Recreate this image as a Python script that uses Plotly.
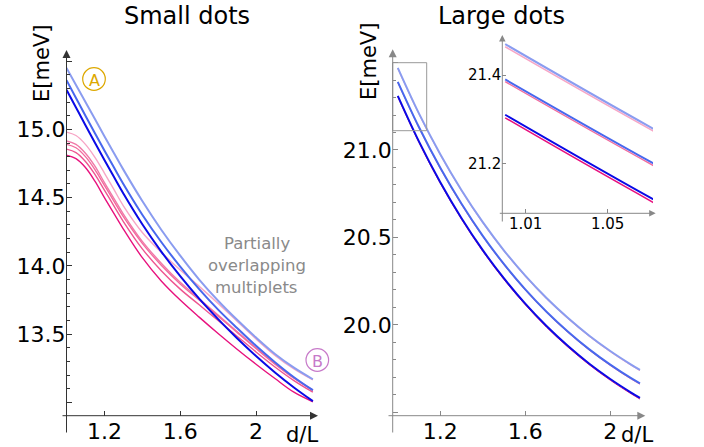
import plotly.graph_objects as go

W, H = 704, 447

# ---------------- data ----------------
# Small dots panel
d_small = [1.0, 1.05, 1.1, 1.15, 1.2, 1.25, 1.3, 1.4, 1.5, 1.6, 1.7, 1.8, 1.9, 2.0, 2.1, 2.2, 2.3]
small_blue_light = [15.45, 15.325, 15.20, 15.075, 14.95, 14.827, 14.705, 14.475, 14.265, 14.075, 13.90, 13.745, 13.605, 13.475, 13.355, 13.255, 13.17]
small_blue_mid = [15.36, 15.23, 15.10, 14.972, 14.845, 14.722, 14.60, 14.375, 14.175, 13.995, 13.83, 13.68, 13.545, 13.415, 13.295, 13.185, 13.09]
small_blue_dark = [15.29, 15.16, 15.03, 14.902, 14.775, 14.652, 14.53, 14.305, 14.105, 13.925, 13.76, 13.61, 13.47, 13.34, 13.22, 13.11, 13.01]
small_pink_light = [14.98, 14.955, 14.89, 14.795, 14.68, 14.56, 14.44, 14.245, 14.10, 13.97, 13.85, 13.725, 13.595, 13.465, 13.345, 13.245, 13.165]
small_pink_a = [14.915, 14.89, 14.825, 14.73, 14.61, 14.495, 14.38, 14.18, 14.02, 13.88, 13.76, 13.64, 13.52, 13.40, 13.285, 13.18, 13.09]
small_pink_b = [14.89, 14.865, 14.80, 14.705, 14.59, 14.475, 14.36, 14.165, 14.005, 13.868, 13.75, 13.632, 13.513, 13.395, 13.281, 13.177, 13.088]
small_pink_c = [14.855, 14.83, 14.765, 14.67, 14.555, 14.44, 14.325, 14.125, 13.965, 13.83, 13.715, 13.60, 13.485, 13.37, 13.26, 13.16, 13.075]
small_magenta = [14.81, 14.785, 14.72, 14.62, 14.50, 14.385, 14.27, 14.06, 13.89, 13.75, 13.625, 13.505, 13.39, 13.28, 13.175, 13.075, 13.005]

# Large dots panel (also shown in the inset)
d_large = [1.0, 1.1, 1.2, 1.3, 1.4, 1.5, 1.6, 1.7, 1.8, 1.9, 2.0, 2.1, 2.14]
large_blue_light = [21.47, 21.208, 20.976, 20.770, 20.587, 20.425, 20.281, 20.153, 20.040, 19.939, 19.850, 19.771, 19.742]
large_blue_mid = [21.39, 21.13, 20.898, 20.692, 20.509, 20.347, 20.203, 20.075, 19.962, 19.861, 19.772, 19.693, 19.665]
large_blue_dark = [21.31, 21.048, 20.816, 20.61, 20.427, 20.265, 20.121, 19.993, 19.88, 19.779, 19.69, 19.611, 19.582]
large_pink_light = [21.464, 21.203, 20.971, 20.765, 20.582, 20.42, 20.276, 20.148, 20.035, 19.934, 19.845, 19.766, 19.737]
large_pink_mid = [21.385, 21.125, 20.893, 20.687, 20.504, 20.342, 20.198, 20.07, 19.957, 19.856, 19.767, 19.688, 19.66]
large_magenta = [21.303, 21.041, 20.809, 20.603, 20.42, 20.258, 20.114, 19.986, 19.873, 19.772, 19.683, 19.604, 19.575]

# tick labels
small_x_ticks = [1.2, 1.6, 2.0]
small_x_text = ["1.2", "1.6", "2"]
small_y_ticks = [13.0, 13.5, 14.0, 14.5, 15.0, 15.5]
small_y_text = ["", "13.5", "14.0", "14.5", "15.0", ""]
large_x_ticks = [1.2, 1.6, 2.0]
large_x_text = ["1.2", "1.6", "2"]
large_y_ticks = [19.5, 20.0, 20.5, 21.0, 21.5]
large_y_text = ["", "20.0", "20.5", "21.0", ""]
inset_x_ticks = [1.01, 1.05]
inset_x_text = ["1.01", "1.05"]
inset_y_ticks = [21.2, 21.4]
inset_y_text = ["21.2", "21.4"]

# ---------------- styling ----------------
FONT = "DejaVu Sans"
C_BL = "#8A9CF0"
C_BM = "#4868EE"
C_BD = "#0A0AE6"
C_PL = "#F7A6C6"
C_PA = "#F07AA8"
C_PB = "#F26C9E"
C_PC = "#EE5590"
C_MG = "#E8127E"


def X(px):
    return px / W


def Y(py):
    return 1 - py / H


fig = go.Figure()


def add(x, y, color, width, xa="x", ya="y"):
    fig.add_trace(go.Scatter(x=x, y=y, mode="lines", line=dict(color=color, width=width, shape="spline", smoothing=1.0),
                             xaxis=xa, yaxis=ya, hoverinfo="skip"))


# left panel: pinks under blues
for ys, c in [(small_pink_light, C_PL), (small_pink_a, C_PA), (small_pink_b, C_PB),
              (small_pink_c, C_PC), (small_magenta, C_MG)]:
    add(d_small, ys, c, 1.4)
for ys, c in [(small_blue_light, C_BL), (small_blue_mid, C_BM), (small_blue_dark, C_BD)]:
    add(d_small, ys, c, 2.0)

# right panel (pinks almost hidden under the blues) + inset
for xa, ya, pw in [("x2", "y2", 1.0), ("x3", "y3", 1.5)]:
    for ys, c in [(large_pink_light, C_PL), (large_pink_mid, C_PB), (large_magenta, C_MG)]:
        add(d_large, ys, c, pw, xa, ya)
    for ys, c in [(large_blue_light, C_BL), (large_blue_mid, C_BM), (large_blue_dark, C_BD)]:
        add(d_large, ys, c, 2.0, xa, ya)


def axis_common(color, size, ticklen):
    return dict(showgrid=False, zeroline=False, showline=False, ticks="inside", ticklen=ticklen,
                tickwidth=1, tickcolor=color, tickfont=dict(family=FONT, size=size, color="black"),
                tickmode="array", fixedrange=True)


# pixel geometry of panels
L_x0, L_x1, L_y0, L_y1 = 66.5, 318.0, 415.7, 50.0
R_x0, R_x1, R_y0, R_y1 = 392.7, 645.3, 415.7, 49.3
I_x0, I_x1, I_y0, I_y1 = 502.3, 653.0, 213.3, 35.0

lay = dict(width=W, height=H, margin=dict(l=0, r=0, t=0, b=0), showlegend=False,
           plot_bgcolor="white", paper_bgcolor="white")

lay["xaxis"] = dict(axis_common("#333333", 22, 5), domain=[X(L_x0), X(L_x1)], range=[1.0, 2.327],
                    tickvals=small_x_ticks, ticktext=small_x_text, anchor="y")
lay["yaxis"] = dict(axis_common("#333333", 22, 5), domain=[Y(L_y0), Y(L_y1)], range=[12.903, 15.581],
                    tickvals=small_y_ticks, ticktext=small_y_text, anchor="x",
                    minor=dict(ticks="inside", ticklen=3, tickcolor="#333333", dtick=0.1, tick0=0))
lay["xaxis2"] = dict(axis_common("#888888", 22, 5), domain=[X(R_x0), X(R_x1)], range=[0.976, 2.165],
                     tickvals=large_x_ticks, ticktext=large_x_text, anchor="y2")
lay["yaxis2"] = dict(axis_common("#888888", 22, 5), domain=[Y(R_y0), Y(R_y1)], range=[19.480, 21.576],
                     tickvals=large_y_ticks, ticktext=large_y_text, anchor="x2",
                     minor=dict(ticks="inside", ticklen=3, tickcolor="#888888", dtick=0.1, tick0=0))
lay["xaxis3"] = dict(axis_common("#888888", 15, 4), domain=[X(I_x0), X(I_x1)], range=[0.99859, 1.0721],
                     tickvals=inset_x_ticks, ticktext=inset_x_text, anchor="y3")
lay["yaxis3"] = dict(axis_common("#888888", 15, 4), domain=[Y(I_y0), Y(I_y1)], range=[21.0868, 21.4906],
                     tickvals=inset_y_ticks, ticktext=inset_y_text, anchor="x3")

ann = []
shapes = []


def arrow(x_tip, y_tip, x_tail, y_tail, color, size=1.6):
    ann.append(dict(x=X(x_tip), y=Y(y_tip), xref="paper", yref="paper", ax=x_tail - x_tip, ay=y_tail - y_tip,
                    axref="pixel", ayref="pixel", text="", showarrow=True, arrowhead=2, arrowsize=size,
                    arrowwidth=1, arrowcolor=color, standoff=0))


# axes lines with arrows
arrow(L_x0, L_y1, L_x0, 434, "#333333")
arrow(L_x1, L_y0, 61, L_y0, "#333333")
arrow(R_x0, R_y1, R_x0, 434, "#888888")
arrow(R_x1, R_y0, 387, R_y0, "#888888")
arrow(I_x0, I_y1, I_x0, 223, "#888888", 1.3)
arrow(655.7, I_y0, 498.3, I_y0, "#888888", 1.3)


def text(px, py, s, size, color="black", angle=0, xanchor="center"):
    ann.append(dict(x=X(px), y=Y(py), xref="paper", yref="paper", text=s, showarrow=False, textangle=angle,
                    font=dict(family=FONT, size=size, color=color), xanchor=xanchor, yanchor="middle"))


text(187, 16, "Small dots", 24)
text(502, 16, "Large dots", 24)
text(42, 64, "E[meV]", 21, angle=-90)
text(369, 62, "E[meV]", 21, angle=-90)
text(302, 435, "d/L", 21)
text(637, 435, "d/L", 21)
text(257, 243, "Partially", 16.5, "#8A8A8A")
text(257, 265, "overlapping", 16.5, "#8A8A8A")
text(256, 287, "multiplets", 16.5, "#8A8A8A")

# circled labels
for cx, cy, letter, col in [(94, 79, "A", "#DDA800"), (317.3, 360, "B", "#C77AC9")]:
    r = 11.3
    shapes.append(dict(type="circle", xref="paper", yref="paper", x0=X(cx - r), x1=X(cx + r),
                       y0=Y(cy + r), y1=Y(cy - r), line=dict(color=col, width=1.2)))
    text(cx, cy + 1, letter, 16, col)

# zoom rectangle
shapes.append(dict(type="rect", xref="paper", yref="paper", x0=X(392.7), x1=X(426.7), y0=Y(130.7), y1=Y(62.7),
                   line=dict(color="#999999", width=1)))

lay["annotations"] = ann
lay["shapes"] = shapes
fig.update_layout(**lay)
fig.write_html("out.html", config={"displayModeBar": False},
               post_script="document.body.style.margin='0';document.body.style.padding='0';")
